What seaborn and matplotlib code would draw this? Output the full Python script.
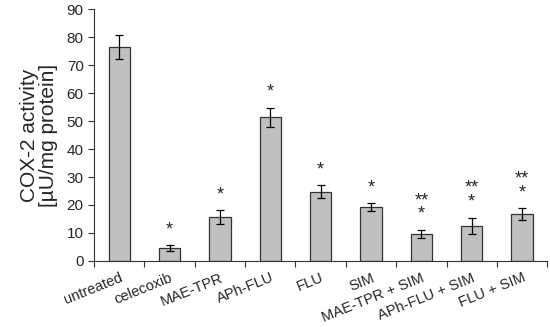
import numpy as np
import pandas as pd
import matplotlib
matplotlib.use("Agg")
import matplotlib.pyplot as plt
import seaborn as sns

groups = ["untreated", "celecoxib", "MAE-TPR", "APh-FLU", "FLU", "SIM",
          "MAE-TPR + SIM", "APh-FLU + SIM", "FLU + SIM"]
activity = [76.4, 4.6, 15.7, 51.4, 24.8, 19.3, 9.6, 12.5, 16.8]
sem = [4.3, 1.0, 2.5, 3.4, 2.3, 1.4, 1.5, 3.0, 2.0]
marks = ["", "*", "*", "*", "*", "*", "**\n*", "**\n*", "**\n*"]

sns.set_style("ticks")
plt.rcParams["font.family"] = ["Liberation Sans", "DejaVu Sans"]

df = pd.DataFrame({"group": groups, "activity": activity})

fig = plt.figure(figsize=(5.5, 3.27), dpi=100)
ax = fig.add_axes([0.171, 0.202, 0.824, 0.77])

sns.barplot(data=df, x="group", y="activity", color="#c0c0c0",
            edgecolor="#333333", linewidth=0.9, width=0.42, saturation=1, ax=ax)
x = np.arange(len(groups))
ax.errorbar(x, activity, yerr=sem, fmt="none", ecolor="black",
            elinewidth=0.9, capsize=3, capthick=0.9)

for xi, v, e, m in zip(x, activity, sem, marks):
    if m:
        ax.text(xi, v + e + 2.5, m, ha="center", va="bottom", fontsize=13,
                linespacing=0.75)

ax.set_ylim(0, 90)
ax.set_xlim(-0.5, len(groups) - 0.5)
ax.set_yticks(range(0, 91, 10))
ax.set_xticks(x)
ax.set_xticklabels(groups, rotation=22, ha="right", rotation_mode="anchor",
                   fontsize=10.5)
ax.tick_params(axis="x", length=0, pad=7)
ax.set_xticks(np.arange(-0.5, len(groups)), minor=True)
ax.tick_params(axis="x", which="minor", length=4, width=0.8, color="#333333")
ax.tick_params(axis="y", labelsize=11, length=4, width=0.8, color="#333333")
ax.set_xlabel("")
ax.set_ylabel("COX-2 activity\n[\u00b5U/mg protein]", fontsize=15,
              linespacing=1.05, labelpad=6)
sns.despine(ax=ax)
for s in ["left", "bottom"]:
    ax.spines[s].set_color("#333333")
    ax.spines[s].set_linewidth(0.8)

fig.savefig("out.png", dpi=100)
